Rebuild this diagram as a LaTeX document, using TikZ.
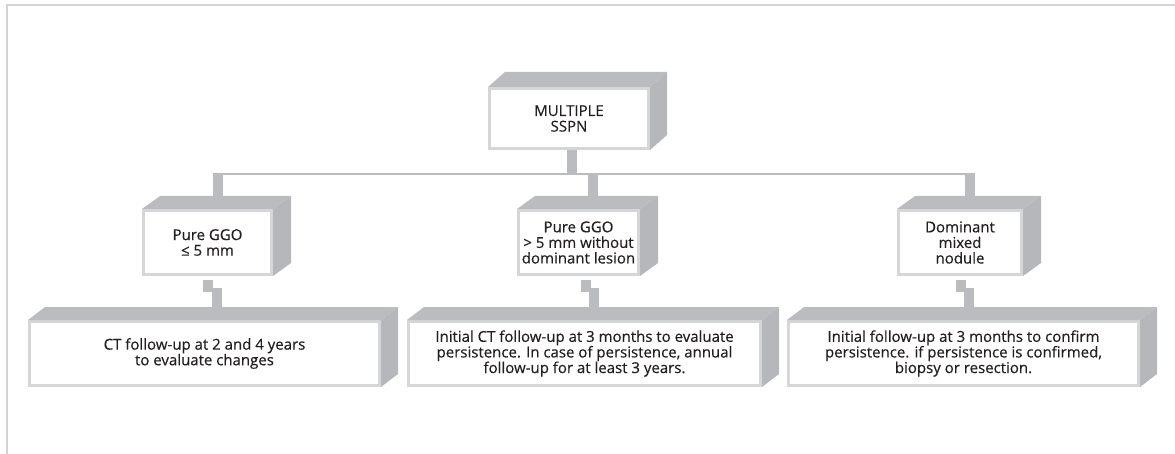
\documentclass[tikz,border=0pt]{standalone}
\usepackage{fontspec}
\setmainfont{Open Sans}[FakeBold=0.4]
\usetikzlibrary{calc}
\definecolor{cubegray}{HTML}{BBBCBF}
\definecolor{sidegray}{HTML}{B6B7BA}
\definecolor{facegray}{HTML}{D5D6D7}
\definecolor{framegray}{HTML}{D4D4D5}
\definecolor{inkc}{HTML}{231F20}
\newcommand\boxtextsize{\fontsize{15pt}{15.6pt}\selectfont}
\newcommand\cubefaces[3]{%
  \fill[cubegray] (#1.north west) -- ++(#2,-#3) -- ($(#1.north east)+(#2,-#3)$) -- (#1.north east) -- cycle;
  \fill[sidegray] (#1.north east) -- ++(#2,-#3) -- ($(#1.south east)+(#2,-#3)$) -- (#1.south east) -- cycle;}
\begin{document}
\begin{tikzpicture}[x=1pt,y=-1pt,
  face/.style={draw=facegray, line width=3pt, fill=white, inner sep=0pt, align=center,
    text=inkc, font=\boxtextsize},
  leg/.style={draw=cubegray, line width=10pt},
  busline/.style={draw=cubegray, line width=2.5pt}]
\useasboundingbox (0,0) rectangle (1175,454);
% frame
\draw[framegray, line width=2.3pt] (7.2,454) -- (7.2,5.2) -- (1175,5.2);
% boxes
\node[face, minimum width=159, minimum height=60] (top) at (569,118.5) {MULTIPLE\\SSPN};
\node[face, minimum width=128, minimum height=64] (pg1) at (207.5,242.5) {Pure GGO\\≤ 5 mm};
\node[face, minimum width=120, minimum height=64] (pg2) at (578.5,242.5) {Pure GGO\\> 5 mm without\\dominant lesion};
\node[face, minimum width=123, minimum height=64] (pg3) at (960,242.5) {Dominant\\mixed\\nodule};
\node[face, minimum width=350, minimum height=64] (ct1) at (204.5,353.5) {CT follow-up at 2 and 4 years\\to evaluate changes};
\node[face, minimum width=352, minimum height=64] (ct2) at (584.5,353.5) {Initial CT follow-up at 3 months to evaluate\\persistence. In case of persistence, annual\\follow-up for at least 3 years.};
\node[face, minimum width=350, minimum height=64] (ct3) at (963.5,353.5) {Initial follow-up at 3 months to confirm\\persistence. if persistence is confirmed,\\biopsy or resection.};
\cubefaces{top}{17}{15}
\cubefaces{pg1}{18}{13}
\cubefaces{pg2}{18}{13}
\cubefaces{pg3}{18}{13}
\cubefaces{ct1}{17}{13}
\cubefaces{ct2}{17}{13}
\cubefaces{ct3}{17}{13}
% stem and bus
\coordinate (bus) at ($(top.south)+(3,24)$);
\draw[leg] ($(top.south)+(3,0)$) -- (bus);
\coordinate (l1) at ($(pg1.north)+(10.5,-13)$);
\coordinate (l2) at ($(pg2.north)+(14,-13)$);
\coordinate (l3) at ($(pg3.north)+(10,-13)$);
\coordinate (b1) at (l1 |- bus);
\coordinate (b2) at (l2 |- bus);
\coordinate (b3) at (l3 |- bus);
\draw[busline] ($(b1)+(-5,0)$) -- ($(b3)+(5,0)$);
\draw[leg] ($(b1)+(0,-1)$) -- (l1);
\draw[leg] (b2) -- (l2);
\draw[leg] ($(b3)+(0,-1)$) -- (l3);
% stepped connectors
\foreach \n/\a in {1/0.5,2/7,3/0.5}{
  \draw[leg] ($(pg\n.south)+(\a,4)$) -- ++(0,12);
  \coordinate (s\n) at ($(pg\n.south)+(\a+8.5,12)$);
  \coordinate (e\n) at ($(ct\n.north)+(0,-13)$);
  \draw[leg] (s\n) -- (s\n |- e\n);
}
\end{tikzpicture}
\end{document}
